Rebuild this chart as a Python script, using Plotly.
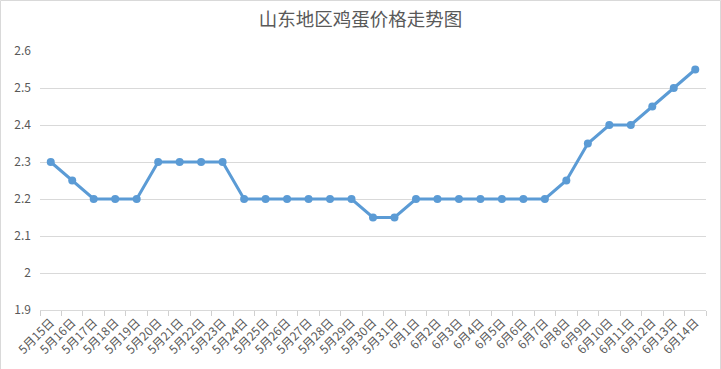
import plotly.graph_objects as go

dates = ["5月15日","5月16日","5月17日","5月18日","5月19日","5月20日","5月21日","5月22日",
         "5月23日","5月24日","5月25日","5月26日","5月27日","5月28日","5月29日","5月30日",
         "5月31日","6月1日","6月2日","6月3日","6月4日","6月5日","6月6日","6月7日","6月8日",
         "6月9日","6月10日","6月11日","6月12日","6月13日","6月14日"]
prices = [2.3,2.25,2.2,2.2,2.2,2.3,2.3,2.3,2.3,2.2,2.2,2.2,2.2,2.2,2.2,2.15,
          2.15,2.2,2.2,2.2,2.2,2.2,2.2,2.2,2.25,2.35,2.4,2.4,2.45,2.5,2.55]
y_ticks = [1.9,2.0,2.1,2.2,2.3,2.4,2.5,2.6]
y_labels = ["1.9","2","2.1","2.2","2.3","2.4","2.5","2.6"]

FONT = "Microsoft YaHei, Noto Sans CJK SC, sans-serif"
GRAY = "#595959"
W, H = 721, 369
ML, MR, MT, MB = 40, 15, 51, 59

fig = go.Figure(go.Scatter(
    x=dates, y=prices, mode="lines+markers",
    line=dict(color="#5B9BD5", width=3),
    marker=dict(color="#5B9BD5", size=8),
    hoverinfo="x+y",
))

pw, ph = W - ML - MR, H - MT - MB
fig.add_shape(type="rect", xref="paper", yref="paper",
              x0=(0.5 - ML) / pw, x1=(W - 0.5 - ML) / pw,
              y0=(MB - H + 0.5) / ph, y1=(H - 0.5 - MB) / ph,
              line=dict(color="#d9d9d9", width=1))

fig.update_layout(
    width=W, height=H,
    margin=dict(l=ML, r=MR, t=MT, b=MB, autoexpand=False),
    paper_bgcolor="white", plot_bgcolor="white",
    showlegend=False,
    font=dict(family=FONT, color=GRAY),
    title=dict(text="山东地区鸡蛋价格走势图", x=0.5, xanchor="center", y=1 - 20 / H, yanchor="middle",
               font=dict(size=18.5, color=GRAY, family=FONT)),
    xaxis=dict(type="category", range=[-0.5, len(dates) - 0.5], automargin=False,
               tickangle=-45, tickfont=dict(size=12, color=GRAY, family=FONT),
               ticks="outside", tickson="boundaries", ticklen=5, tickcolor="#d0d0d0",
               showline=True, linecolor="#d9d9d9", linewidth=1,
               showgrid=False, zeroline=False),
    yaxis=dict(range=[1.9, 2.6], tickvals=y_ticks, ticktext=y_labels, automargin=False,
               tickfont=dict(size=12, color=GRAY, family=FONT),
               showgrid=True, gridcolor="#d9d9d9", gridwidth=1,
               zeroline=False, showline=False, ticks="", ticklabelstandoff=8),
)

fig.write_html("out.html", config={"displayModeBar": False},
               post_script="document.body.style.margin='0';document.body.style.overflow='hidden';")
